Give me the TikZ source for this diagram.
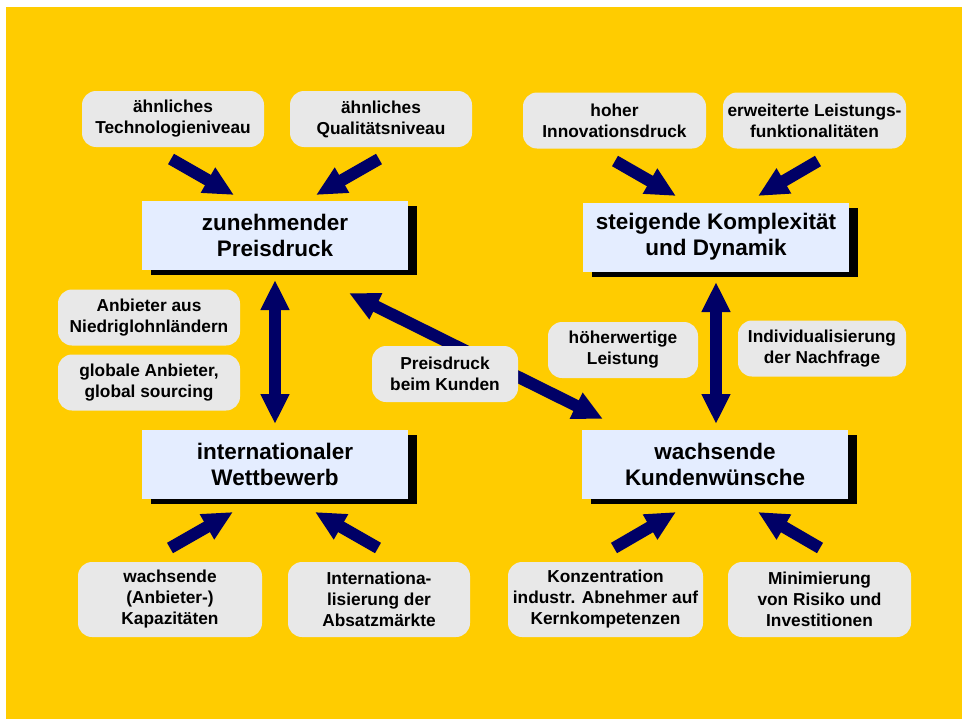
\documentclass[tikz,border=0pt]{standalone}
\usepackage{fontspec}
\setmainfont{Liberation Sans}
\usetikzlibrary{arrows.meta,shadows}

\definecolor{bgyellow}{HTML}{FFCC00}
\definecolor{navy}{HTML}{000066}
\definecolor{mainfill}{HTML}{E4EDFF}
\definecolor{notefill}{HTML}{E8E8E8}

\tikzset{
  mainbox/.style={fill=mainfill, draw=none, minimum width=266pt, minimum height=69pt,
    inner sep=0pt, align=center, font=\fontsize{22.5}{26}\selectfont\bfseries,
    general shadow={fill=black, shadow xshift=9pt, shadow yshift=-5pt}},
  note/.style={fill=notefill, draw=none, rounded corners=14pt, inner sep=0pt,
    minimum height=56pt, align=center, font=\fontsize{17.3}{21}\selectfont\bfseries},
  tallnote/.style={note, minimum height=75pt},
  blockarrow/.style={draw=navy, line width=12pt, line cap=butt,
    -{Triangle[length=30pt,width=27pt]}},
  twoway/.style={draw=navy, line width=12pt, line cap=butt,
    {Triangle[length=30pt,width=27pt]}-{Triangle[length=30pt,width=27pt]}},
}

\begin{document}
\begin{tikzpicture}[x=1pt,y=-1pt]
\useasboundingbox (0,0) rectangle (962,720);
\fill[bgyellow] (6,7) rectangle (962,719);

% central topics
\node[mainbox] (preis)   at (275,235.5) {zunehmender\\Preisdruck};
\node[mainbox] (komplex) at (716,237)   {steigende Komplexität\\und Dynamik};
\node[mainbox] (wettb)   at (275,464)   {internationaler\\Wettbewerb};
\node[mainbox] (kunde)   at (715,464)   {wachsende\\Kundenwünsche};

% arrow end points
\coordinate (t1) at (171,159); \coordinate (h1) at (234,195);
\coordinate (t2) at (379,159); \coordinate (h2) at (316,195);
\coordinate (t3) at (615,161); \coordinate (h3) at (676,196);
\coordinate (t4) at (818,161); \coordinate (h4) at (758,196);
\coordinate (t5) at (170,548); \coordinate (h5) at (233,512);
\coordinate (t6) at (378,548); \coordinate (h6) at (315,512);
\coordinate (t7) at (614,548); \coordinate (h7) at (676,512);
\coordinate (t8) at (820,548); \coordinate (h8) at (758,512);
\coordinate (v1a) at (275,280); \coordinate (v1b) at (275,424);
\coordinate (v2a) at (716,282); \coordinate (v2b) at (716,424);
\coordinate (d1) at (349,293);  \coordinate (d2) at (603,419);

% influence arrows
\draw[blockarrow] (t1) -- (h1);
\draw[blockarrow] (t2) -- (h2);
\draw[blockarrow] (t3) -- (h3);
\draw[blockarrow] (t4) -- (h4);
\draw[blockarrow] (t5) -- (h5);
\draw[blockarrow] (t6) -- (h6);
\draw[blockarrow] (t7) -- (h7);
\draw[blockarrow] (t8) -- (h8);
\draw[twoway] (v1a) -- (v1b);
\draw[twoway] (v2a) -- (v2b);
\draw[twoway] (d1) -- (d2);

% factors
\node[note, minimum width=182pt] (n1) at (173,119) {ähnliches\\Technologieniveau};
\node[note, minimum width=182pt] (n2) at (381,119) {ähnliches\\Qualitätsniveau};
\node[note, minimum width=183pt] (n3) at (614.5,120.5) {hoher\\Innovationsdruck};
\node[note, minimum width=183pt] (n4) at (814.5,120.5) {erweiterte Leistungs-\\funktionalitäten};
\node[note, minimum width=182pt] (n5) at (149,317.5) {Anbieter aus\\Niedriglohnländern};
\node[note, minimum width=182pt] (n6) at (149,382.5) {globale Anbieter,\\global sourcing};
\node[note, minimum width=146pt] (n7) at (445,374) {Preisdruck\\beim Kunden};
\node[note, minimum width=150pt] (n8) at (623,350) {höherwertige\\Leistung};
\node[note, minimum width=168pt] (n9) at (822,348.5) {Individualisierung\\der Nachfrage};
\node[tallnote, minimum width=184pt] (n10) at (170,599.5) {wachsende\\(Anbieter-)\\Kapazitäten};
\node[tallnote, minimum width=182pt] (n11) at (379,599.5) {Internationa-\\lisierung der\\Absatzmärkte};
\node[tallnote, minimum width=195pt] (n12) at (605.5,599.5) {Konzentration\\industr. Abnehmer auf\\Kernkompetenzen};
\node[tallnote, minimum width=183pt] (n13) at (819.5,599.5) {Minimierung\\von Risiko und\\Investitionen};
\end{tikzpicture}
\end{document}
